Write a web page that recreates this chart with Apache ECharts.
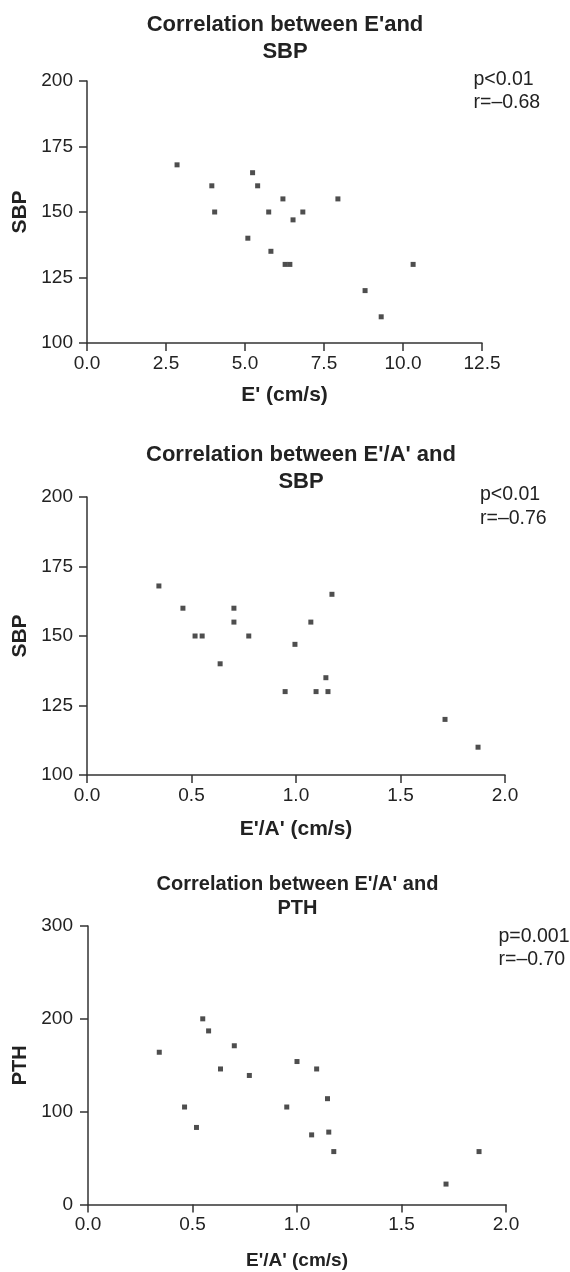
<!DOCTYPE html>
<html>
<head>
<meta charset="utf-8">
<title>Correlation scatter plots</title>
<script src="https://cdn.jsdelivr.net/npm/echarts@6/dist/echarts.min.js"></script>
<style>
  html, body { margin: 0; padding: 0; background: #fff; }
  #main { width: 570px; height: 1272px; }
</style>
</head>
<body>
<div id="main"></div>
<script>
// E' vs SBP
const eVel = [2.85, 5.24, 3.95, 5.40, 6.20, 7.94, 4.04, 5.75, 6.83, 6.52, 5.09, 5.82, 6.27, 6.42, 10.32, 8.80, 9.31];
const sbpA = [168, 165, 160, 160, 155, 155, 150, 150, 150, 147, 140, 135, 130, 130, 130, 120, 110];

// E'/A' vs SBP
const eaRatioB = [0.344, 0.459, 1.172, 0.703, 0.703, 1.071, 0.517, 0.551, 0.774, 0.995, 0.637, 1.143, 0.948, 1.096, 1.153, 1.713, 1.871];
const sbpB = [168, 160, 165, 160, 155, 155, 150, 150, 150, 147, 140, 135, 130, 130, 130, 120, 110];

// E'/A' vs PTH
const eaRatioC = [0.341, 0.549, 0.577, 0.700, 0.634, 0.772, 1.000, 1.094, 1.146, 0.462, 0.951, 0.519, 1.070, 1.152, 1.176, 1.871, 1.713];
const pthC = [164, 200, 187, 171, 146, 139, 154, 146, 114, 105, 105, 83, 75, 78, 57, 57, 22];

// tick settings
const xTicksA = { min: 0, max: 12.5, interval: 2.5 };
const xTicksBC = { min: 0, max: 2, interval: 0.5 };
const yTicksSbp = { min: 100, max: 200, interval: 25 };
const yTicksPth = { min: 0, max: 300, interval: 100 };

const titles = ["Correlation between E'and\nSBP", "Correlation between E'/A' and\nSBP", "Correlation between E'/A' and\nPTH"];
const stats = ['p<0.01\nr=\u20130.68', 'p<0.01\nr=\u20130.76', 'p=0.001\nr=\u20130.70'];

const FONT = '"Liberation Sans", Arial, Helvetica, sans-serif';
const INK = '#222';

function pairs(xs, ys) {
  return xs.map((x, i) => [x, ys[i]]);
}

function xAxisOf(idx, ticks, name, nameSize, nameGap) {
  return {
    type: 'value',
    gridIndex: idx,
    min: ticks.min,
    max: ticks.max,
    interval: ticks.interval,
    name: name,
    nameLocation: 'middle',
    nameGap: nameGap,
    nameTextStyle: { fontFamily: FONT, fontWeight: 'bold', fontSize: nameSize, color: INK },
    axisLine: { show: true, lineStyle: { color: '#333', width: 1.5 } },
    axisTick: { show: true, inside: false, length: 8, lineStyle: { color: '#333', width: 1.5 } },
    axisLabel: {
      margin: 11,
      fontFamily: FONT,
      fontSize: 19,
      color: INK,
      formatter: v => v.toFixed(1)
    },
    splitLine: { show: false }
  };
}

function yAxisOf(idx, ticks, name, nameSize, nameGap, labelMargin) {
  return {
    type: 'value',
    gridIndex: idx,
    min: ticks.min,
    max: ticks.max,
    interval: ticks.interval,
    name: name,
    nameLocation: 'middle',
    nameRotate: 90,
    nameGap: nameGap,
    nameTextStyle: { fontFamily: FONT, fontWeight: 'bold', fontSize: nameSize, color: INK },
    axisLine: { show: true, lineStyle: { color: '#333', width: 1.5 } },
    axisTick: { show: true, inside: false, length: 8, lineStyle: { color: '#333', width: 1.5 } },
    axisLabel: { margin: labelMargin, fontFamily: FONT, fontSize: 19, color: INK },
    splitLine: { show: false }
  };
}

function scatterOf(idx, data) {
  return {
    type: 'scatter',
    xAxisIndex: idx,
    yAxisIndex: idx,
    symbol: 'rect',
    symbolSize: 5,
    itemStyle: { color: INK },
    data: data
  };
}

function textOf(text, x, y, opts) {
  return {
    type: 'text',
    x: x,
    y: y,
    style: Object.assign({
      text: text,
      fill: INK,
      fontFamily: FONT,
      textVerticalAlign: 'middle'
    }, opts)
  };
}

const chart = echarts.init(document.getElementById('main'), null, { renderer: 'canvas' });

const option = {
  animation: false,
  backgroundColor: '#fff',
  grid: [
    { left: 87, right: 88, top: 81, height: 262 },
    { left: 87, right: 65, top: 497, height: 278 },
    { left: 88, right: 64, top: 926, height: 278.5 }
  ],
  xAxis: [
    xAxisOf(0, xTicksA, "E' (cm/s)", 21, 42),
    xAxisOf(1, xTicksBC, "E'/A' (cm/s)", 21, 44),
    xAxisOf(2, xTicksBC, "E'/A' (cm/s)", 19, 47)
  ],
  yAxis: [
    yAxisOf(0, yTicksSbp, 'SBP', 21, 52, 14),
    yAxisOf(1, yTicksSbp, 'SBP', 21, 54, 14),
    yAxisOf(2, yTicksPth, 'PTH', 20, 56, 15)
  ],
  series: [
    scatterOf(0, pairs(eVel, sbpA)),
    scatterOf(1, pairs(eaRatioB, sbpB)),
    scatterOf(2, pairs(eaRatioC, pthC))
  ],
  graphic: [
    // panel titles
    textOf(titles[0], 285, 38.5, { fontSize: 22, fontWeight: 'bold', lineHeight: 27, textAlign: 'center' }),
    textOf(titles[1], 301, 468, { fontSize: 22, fontWeight: 'bold', lineHeight: 27, textAlign: 'center' }),
    textOf(titles[2], 297.5, 896, { fontSize: 20, fontWeight: 'bold', lineHeight: 24, textAlign: 'center' }),
    // p / r annotations
    textOf(stats[0], 473.5, 91, { fontSize: 19.5, lineHeight: 23.4, textAlign: 'left' }),
    textOf(stats[1], 480, 506.7, { fontSize: 19.5, lineHeight: 23.4, textAlign: 'left' }),
    textOf(stats[2], 498.5, 948, { fontSize: 19.5, lineHeight: 22.3, textAlign: 'left' })
  ]
};

chart.setOption(option);
</script>
</body>
</html>
